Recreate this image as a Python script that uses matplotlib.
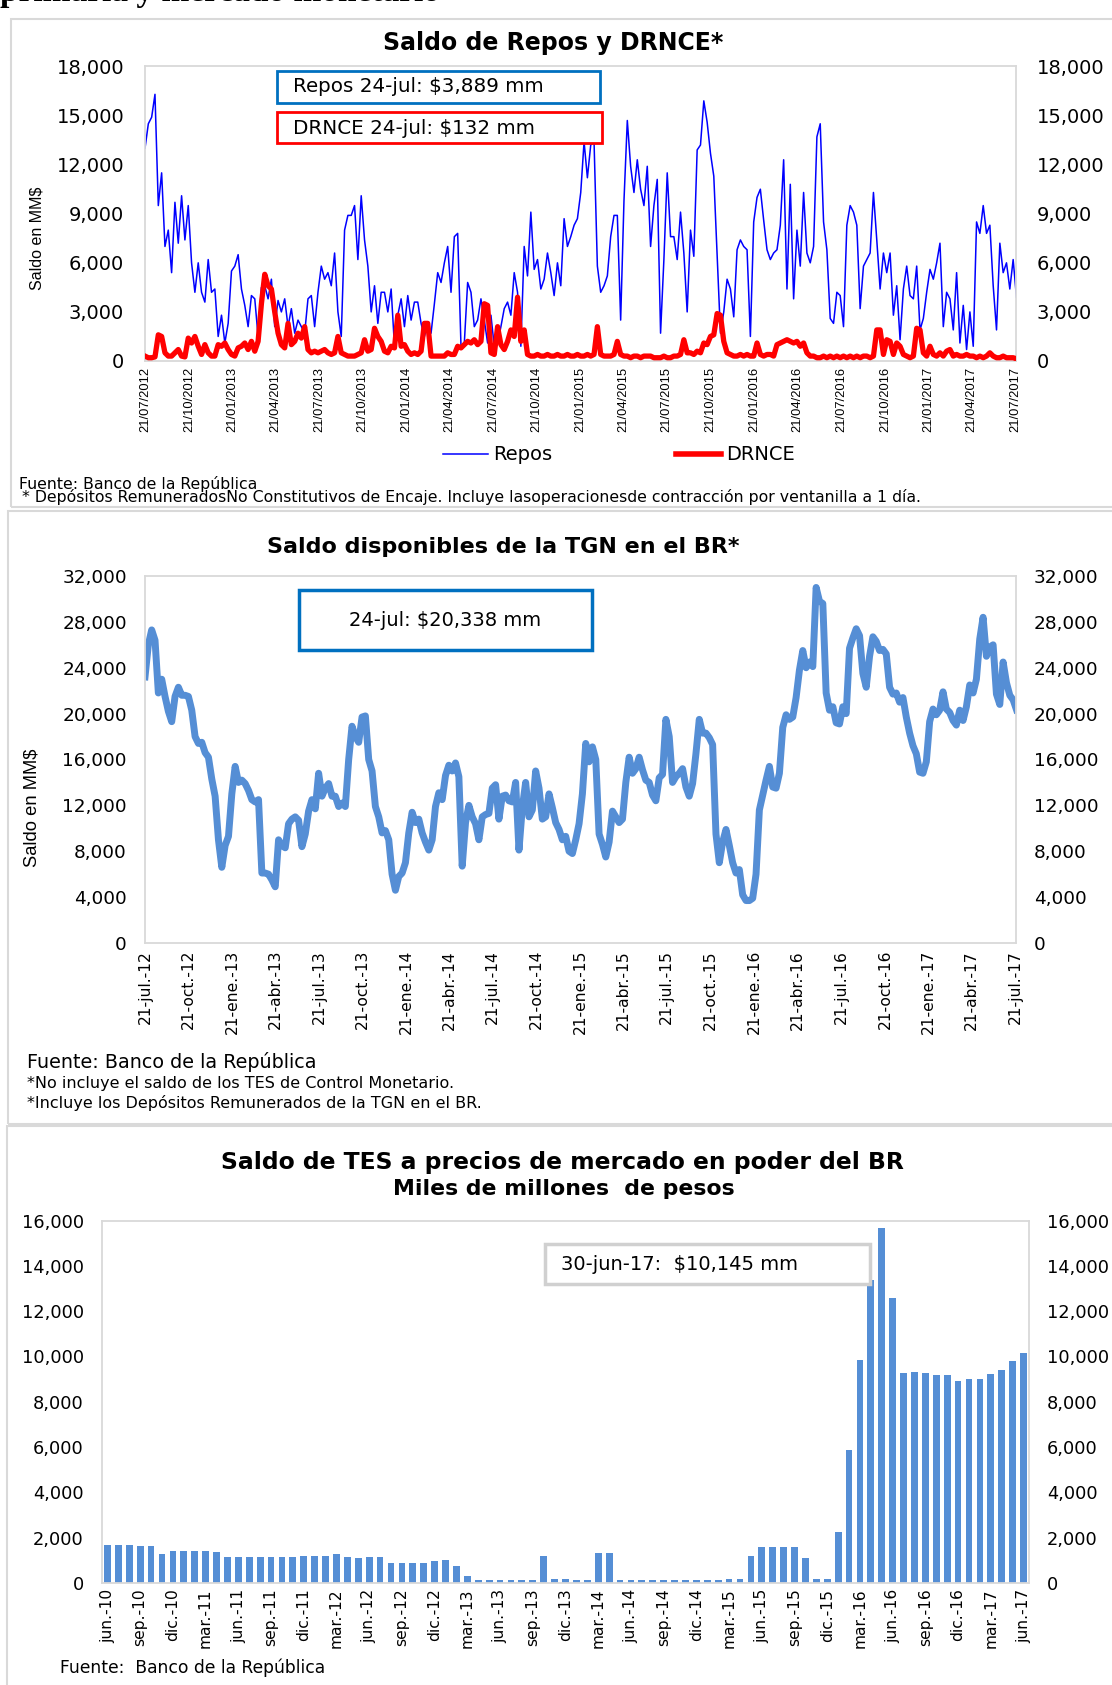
import numpy as np
import pandas as pd
import matplotlib
matplotlib.use('Agg')
import matplotlib.pyplot as plt
from matplotlib.patches import Rectangle
from matplotlib.lines import Line2D

W, H = 1112, 1685

# ---------------- panel 1: Repos y DRNCE (semanal, MM$) ----------------
repos = [13000, 14500, 14900, 16300, 9500, 11500, 7000, 8000, 5400, 9700,
         7200, 10100, 7400, 9500, 6000, 4200, 6000, 4200, 3600, 6200,
         4200, 4400, 1500, 2800, 1100, 2300, 5500, 5800, 6500, 4400,
         3400, 2100, 4000, 3800, 1500, 4500, 4600, 3800, 5000, 2100,
         3700, 3000, 3800, 2100, 3200, 1700, 2500, 2100, 1700, 3800,
         4000, 2100, 4200, 5800, 5000, 5400, 4600, 6600, 3000, 1500,
         8000, 8900, 8900, 9500, 6200, 10100, 7400, 5800, 3000, 4600,
         2300, 4200, 4200, 3000, 4400, 900, 2800, 3800, 2100, 4000,
         2500, 3600, 3600, 2300, 1500, 2300, 1700, 3500, 5400, 4800,
         6000, 7000, 4200, 7600, 7800, 900, 1100, 4800, 4200, 2100,
         2500, 3800, 2500, 1100, 2800, 900, 1100, 2100, 3200, 3600,
         2800, 5400, 4200, 900, 7000, 5200, 9100, 5600, 6200, 4400,
         5000, 6600, 5400, 4000, 6000, 4600, 8700, 7000, 7600, 8300,
         8700, 10300, 13400, 11200, 13200, 13400, 5800, 4200, 4600, 5200,
         7600, 8900, 8900, 2500, 9800, 14700, 11900, 10300, 12300, 10500,
         9500, 11900, 7000, 9500, 11100, 1700, 6200, 11500, 7600, 7600,
         6200, 9100, 6600, 3000, 8000, 6400, 12900, 13200, 15900, 14600,
         12700, 11300, 6500, 1700, 3000, 5000, 4400, 2700, 6800, 7400,
         7000, 6800, 1500, 8500, 10000, 10500, 8600, 6800, 6200, 6600,
         6800, 8300, 12300, 4400, 10800, 3800, 8000, 5800, 10300, 6600,
         6000, 7000, 13700, 14500, 8500, 6800, 2600, 2300, 4200, 4000,
         2100, 8300, 9500, 9100, 8300, 3200, 5800, 6200, 6600, 10300,
         7400, 4400, 6600, 5400, 6600, 2800, 4600, 1300, 4400, 5800,
         4000, 3800, 5800, 1900, 2600, 4200, 5600, 5000, 6000, 7200,
         2100, 4200, 3800, 1900, 5400, 1100, 3400, 700, 3000, 900,
         8500, 7800, 9500, 7800, 8300, 4600, 1900, 7200, 5400, 6000,
         4400, 6200, 3889]

drnce = [300, 200, 200, 250, 1600, 1500, 500, 300, 300, 500,
         700, 300, 250, 1400, 1100, 1500, 900, 400, 1000, 500,
         300, 300, 1000, 900, 1100, 700, 400, 300, 800, 900,
         1100, 700, 1200, 600, 1200, 3500, 5300, 4600, 4400, 3000,
         1700, 1000, 800, 2300, 1000, 1200, 1700, 1400, 2100, 700,
         500, 600, 500, 600, 700, 500, 400, 500, 1500, 500,
         400, 300, 300, 300, 400, 500, 1300, 600, 700, 2000,
         1500, 1200, 600, 500, 900, 800, 2800, 900, 1000, 600,
         400, 500, 400, 600, 2300, 2300, 300, 300, 300, 300,
         300, 500, 400, 400, 900, 800, 1000, 1200, 1100, 1300,
         1000, 1200, 3500, 3400, 500, 400, 2100, 1000, 700, 1200,
         1900, 1500, 3900, 1200, 1900, 400, 300, 300, 400, 300,
         300, 400, 300, 300, 400, 300, 300, 400, 300, 300,
         400, 300, 300, 400, 300, 400, 2100, 400, 300, 300,
         300, 400, 1200, 400, 300, 300, 200, 300, 300, 200,
         300, 300, 300, 200, 200, 200, 300, 200, 200, 300,
         300, 400, 1300, 500, 500, 400, 600, 500, 1100, 1000,
         1500, 1600, 2900, 2800, 1200, 500, 400, 300, 300, 400,
         300, 400, 300, 300, 1100, 400, 300, 400, 400, 300,
         1000, 1100, 1200, 1300, 1200, 1100, 1200, 900, 1100, 500,
         300, 300, 200, 200, 300, 200, 300, 200, 300, 200,
         300, 200, 300, 200, 300, 200, 300, 300, 200, 300,
         1900, 1900, 400, 1300, 1200, 400, 1100, 900, 400, 300,
         200, 300, 2000, 1900, 500, 300, 900, 400, 300, 500,
         300, 600, 700, 300, 400, 300, 300, 400, 300, 300,
         200, 300, 200, 300, 500, 300, 200, 200, 300, 200,
         200, 200, 132]

p1_ticks = ['21/07/2012', '21/10/2012', '21/01/2013', '21/04/2013', '21/07/2013',
            '21/10/2013', '21/01/2014', '21/04/2014', '21/07/2014', '21/10/2014',
            '21/01/2015', '21/04/2015', '21/07/2015', '21/10/2015', '21/01/2016',
            '21/04/2016', '21/07/2016', '21/10/2016', '21/01/2017', '21/04/2017',
            '21/07/2017']

# ---------------- panel 2: saldo TGN en el BR (semanal, MM$) ----------------
tgn = [23200, 26000, 27300, 26400, 21800, 23000, 21500, 20200, 19300, 21500,
       22300, 21600, 21600, 21500, 20300, 18000, 17400, 17500, 16600, 16200,
       14300, 12800, 9000, 6600, 8500, 9300, 13000, 15400, 14000, 14200,
       13900, 13300, 12500, 12300, 12500, 6100, 6100, 6000, 5500, 4900,
       9000, 8500, 8300, 10400, 10800, 11000, 10700, 8400, 9500, 11500,
       12500, 11700, 14800, 12800, 13500, 13900, 12800, 12800, 11900, 12200,
       11900, 16000, 18900, 18000, 17500, 19700, 19800, 16000, 15000, 11900,
       11000, 9600, 9800, 9000, 6000, 4600, 5800, 6100, 7000, 9600,
       11400, 10500, 10800, 9600, 8800, 8100, 9000, 11900, 13100, 12500,
       14600, 15500, 15000, 15700, 14500, 6700, 10500, 12000, 11000, 10400,
       9000, 11000, 11200, 11300, 13500, 13800, 10800, 12800, 12900, 12400,
       12300, 14000, 8100, 11800, 14000, 11000, 11600, 15000, 13500, 10800,
       11000, 13000, 11800, 10500, 9900, 9000, 9300, 8000, 7800, 9000,
       10400, 13000, 17400, 15800, 17100, 16000, 9500, 8600, 7500, 8800,
       11500, 11000, 10500, 10800, 14000, 16200, 14800, 15200, 16200, 15100,
       14200, 14000, 12900, 12400, 14400, 14700, 19500, 18000, 14000, 14500,
       14800, 15200, 13600, 12800, 13900, 16500, 19500, 18300, 18300, 17900,
       17300, 9500, 7000, 8800, 9900, 8500, 7000, 6100, 6400, 4200,
       3700, 3700, 3900, 6000, 11600, 12900, 14200, 15400, 13600, 13500,
       14800, 18800, 19900, 19500, 19700, 21400, 23800, 25500, 24000, 24500,
       24100, 31000, 29800, 29600, 21800, 20300, 20600, 19200, 19100, 20600,
       20000, 25700, 26600, 27400, 26800, 23500, 22300, 25000, 26700, 26300,
       25500, 25600, 25200, 22300, 21700, 21800, 21000, 21400, 19700, 18300,
       17200, 16500, 14900, 14800, 15800, 19300, 20400, 19900, 20300, 21900,
       20400, 20100, 19400, 19000, 20300, 19400, 20600, 22500, 21800, 23000,
       26500, 28400, 25000, 25800, 26000, 21700, 20800, 24500, 22700, 21600,
       21200, 20338]

p2_ticks = ['21-jul.-12', '21-oct.-12', '21-ene.-13', '21-abr.-13', '21-jul.-13',
            '21-oct.-13', '21-ene.-14', '21-abr.-14', '21-jul.-14', '21-oct.-14',
            '21-ene.-15', '21-abr.-15', '21-jul.-15', '21-oct.-15', '21-ene.-16',
            '21-abr.-16', '21-jul.-16', '21-oct.-16', '21-ene.-17', '21-abr.-17',
            '21-jul.-17']

# ---------------- panel 3: TES en poder del BR (mensual, jun-10 a jun-17) ----------------
tes = [1660, 1660, 1660, 1620, 1620, 1290, 1420, 1420, 1420, 1420,
       1390, 1160, 1160, 1160, 1160, 1160, 1160, 1160, 1210, 1210,
       1210, 1290, 1160, 1100, 1160, 1160, 890, 890, 890, 890,
       950, 1020, 760, 320, 130, 130, 130, 130, 130, 130,
       1210, 160, 160, 130, 130, 1320, 1320, 130, 130, 130,
       130, 130, 130, 130, 130, 130, 130, 160, 160, 1210,
       1580, 1580, 1580, 1580, 1100, 160, 160, 2230, 5870, 9860,
       13380, 15680, 12600, 9260, 9310, 9260, 9180, 9180, 8900, 9020,
       9020, 9230, 9420, 9810, 10145]

p3_ticks = ['jun.-10', 'sep.-10', 'dic.-10', 'mar.-11', 'jun.-11', 'sep.-11', 'dic.-11',
            'mar.-12', 'jun.-12', 'sep.-12', 'dic.-12', 'mar.-13', 'jun.-13', 'sep.-13',
            'dic.-13', 'mar.-14', 'jun.-14', 'sep.-14', 'dic.-14', 'mar.-15', 'jun.-15',
            'sep.-15', 'dic.-15', 'mar.-16', 'jun.-16', 'sep.-16', 'dic.-16', 'mar.-17',
            'jun.-17']


def fx(x):
    return x / W


def fy(y):
    return 1 - y / H


def box(x0, y0, x1, y1, ec, lw):
    fig.add_artist(Rectangle((fx(x0), fy(y1)), fx(x1) - fx(x0), (y1 - y0) / H,
                             transform=fig.transFigure, fc='white', ec=ec, lw=lw, zorder=5))


def style_axes(ax, ylim, step, ysize, ypad):
    ax.set_ylim(0, ylim)
    ax.set_yticks(np.arange(0, ylim + 1, step))
    ax.set_yticklabels(['{:,.0f}'.format(v) for v in np.arange(0, ylim + 1, step)],
                       family='DejaVu Sans', fontsize=ysize)
    ax.tick_params(axis='y', length=0, labelleft=True, labelright=True, pad=ypad)
    ax.tick_params(axis='x', length=0)
    for s in ax.spines.values():
        s.set_color('#D9D9D9')
        s.set_linewidth(1.3)


blue_bar = '#558ED5'

fig = plt.figure(figsize=(W / 100, H / 100), dpi=100)

# panel frames
for (x0, y0, x1, y1) in [(11, 19, 1130, 507), (8, 511, 1130, 1124), (7, 1126, 1130, 1700)]:
    fig.add_artist(Rectangle((fx(x0), fy(y1)), fx(x1) - fx(x0), (y1 - y0) / H,
                             transform=fig.transFigure, fc='none', ec='#D9D9D9', lw=1.5))

# encabezado de la página, cortado por el borde superior
fig.text(fx(0), fy(1), 'primaria y mercado monetario', family='Liberation Serif',
         weight='bold', fontsize=24, va='baseline', ha='left')

# ---- panel 1 ----
ax1 = fig.add_axes([fx(145), fy(361), fx(1016) - fx(145), (361 - 66.5) / H])
d1 = pd.date_range('2012-07-21', '2017-07-24', periods=len(repos))
ax1.plot(d1, repos, color='#0000FF', lw=1.1, zorder=2)
ax1.plot(d1, drnce, color='#FF0000', lw=3.8, solid_joinstyle='round', zorder=3)
ax1.set_xlim(pd.Timestamp('2012-07-21'), pd.Timestamp('2017-07-23'))
style_axes(ax1, 18000, 3000, 14, 15)
ax1.set_xticks(pd.to_datetime(p1_ticks, format='%d/%m/%Y'))
ax1.set_xticklabels(p1_ticks, rotation=90, family='Liberation Sans', fontsize=9.3)
ax1.tick_params(axis='x', pad=4)
fig.text(fx(553), fy(43), 'Saldo de Repos y DRNCE*', family='DejaVu Sans', weight='bold',
         fontsize=17, ha='center', va='center')
fig.text(fx(37), fy(238), 'Saldo en MM$', family='Liberation Sans', fontsize=11.5,
         rotation=90, ha='center', va='center')
box(277, 71, 600, 103, '#0070C0', 2)
box(277, 112, 602, 143, '#FF0000', 2)
fig.text(fx(293), fy(87), 'Repos 24-jul: $3,889 mm', family='DejaVu Sans', fontsize=14.3,
         va='center', zorder=6)
fig.text(fx(293), fy(128), 'DRNCE 24-jul: $132 mm', family='DejaVu Sans', fontsize=14.3,
         va='center', zorder=6)
handles = [Line2D([], [], color='#0000FF', lw=1.1), Line2D([], [], color='#FF0000', lw=4)]
fig.legend(handles, ['Repos', 'DRNCE'], loc='center', bbox_to_anchor=(fx(619), fy(455)),
           ncol=2, frameon=False, handlelength=2.3, handletextpad=0.25, columnspacing=6.4,
           prop={'family': 'DejaVu Sans', 'size': 14})
fig.text(fx(19), fy(484), 'Fuente: Banco de la República', family='DejaVu Sans', fontsize=11.3,
         va='center')
fig.text(fx(22), fy(497), '* Depósitos RemuneradosNo Constitutivos de Encaje. Incluye '
         'lasoperacionesde contracción por ventanilla a 1 día.', family='DejaVu Sans',
         fontsize=11.3, va='center')

# ---- panel 2 ----
ax2 = fig.add_axes([fx(145), fy(943), fx(1016) - fx(145), (943 - 576) / H])
d2 = pd.date_range('2012-07-21', '2017-07-24', periods=len(tgn))
ax2.plot(d2, tgn, color=blue_bar, lw=5, solid_joinstyle='round')
ax2.set_xlim(pd.Timestamp('2012-07-21'), pd.Timestamp('2017-07-23'))
style_axes(ax2, 32000, 4000, 13.3, 13)
ax2.set_xticks(pd.to_datetime(p1_ticks, format='%d/%m/%Y'))
ax2.set_xticklabels(p2_ticks, rotation=90, family='DejaVu Sans', fontsize=11.2)
ax2.tick_params(axis='x', pad=5)
fig.text(fx(503), fy(547), 'Saldo disponibles de la TGN en el BR*', family='DejaVu Sans',
         weight='bold', fontsize=16, ha='center', va='center')
fig.text(fx(32), fy(808), 'Saldo en MM$', family='Liberation Sans', fontsize=13.2,
         rotation=90, ha='center', va='center')
box(299, 590, 592, 650, '#0070C0', 2.5)
fig.text(fx(445), fy(620), '24-jul: $20,338 mm', family='DejaVu Sans', fontsize=14,
         ha='center', va='center', zorder=6)
fig.text(fx(27), fy(1062), 'Fuente: Banco de la República', family='DejaVu Sans',
         fontsize=13.8, va='center')
fig.text(fx(27), fy(1083), '*No incluye el saldo de los TES de Control Monetario.',
         family='DejaVu Sans', fontsize=11.5, va='center')
fig.text(fx(27), fy(1103), '*Incluye los Depósitos Remunerados de la TGN en el BR.',
         family='DejaVu Sans', fontsize=11.5, va='center')

# ---- panel 3 ----
ax3 = fig.add_axes([fx(102), fy(1583), fx(1029) - fx(102), (1583 - 1220.5) / H])
xi = np.arange(len(tes))
ax3.bar(xi, tes, width=0.62, color=blue_bar)
ax3.set_xlim(-0.5, len(tes) - 0.5)
style_axes(ax3, 16000, 2000, 12.8, 13)
ax3.set_xticks(xi[::3])
ax3.set_xticklabels(p3_ticks, rotation=90, family='DejaVu Sans', fontsize=11.2)
ax3.tick_params(axis='x', pad=4)
fig.text(fx(562), fy(1162), 'Saldo de TES a precios de mercado en poder del BR',
         family='DejaVu Sans', weight='bold', fontsize=16.9, ha='center', va='center')
fig.text(fx(564), fy(1189), 'Miles de millones  de pesos', family='DejaVu Sans',
         weight='bold', fontsize=15.8, ha='center', va='center')
box(545, 1244, 870, 1284, '#D0D0D0', 2.5)
fig.text(fx(561), fy(1264), '30-jun-17:  $10,145 mm', family='DejaVu Sans', fontsize=14,
         va='center', zorder=6)
fig.text(fx(60), fy(1668), 'Fuente:  Banco de la República', family='DejaVu Sans',
         fontsize=12.3, va='center')

fig.savefig('out.png', dpi=100)
